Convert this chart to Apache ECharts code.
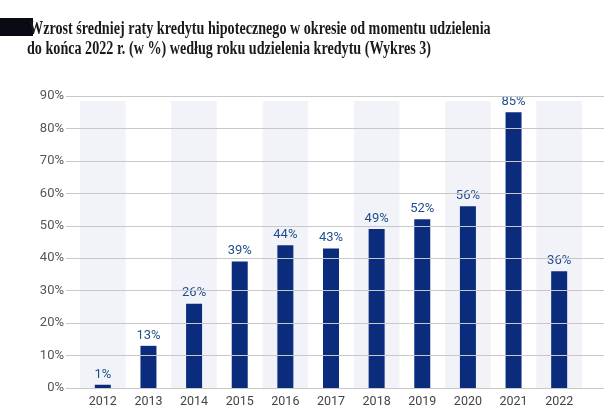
<!DOCTYPE html>
<html><head><meta charset="utf-8">
<script src="https://cdn.jsdelivr.net/npm/echarts@6/dist/echarts.min.js"></script>
<style>html,body{margin:0;padding:0;background:#fff}#c{width:615px;height:410px}</style>
</head><body><div id="c"></div>
<script>
const titleLine1 = 'Wzrost średniej raty kredytu hipotecznego w okresie od momentu udzielenia';
const titleLine2 = 'do końca 2022 r. (w %) według roku udzielenia kredytu (Wykres 3)';
const years = ['2012','2013','2014','2015','2016','2017','2018','2019','2020','2021','2022'];
const values = [1, 13, 26, 39, 44, 43, 49, 52, 56, 85, 36];
const yTicks = {min: 0, max: 90, interval: 10};

const titleStyle = {fontFamily: 'Liberation Serif', fontSize: 18, fontWeight: 'bold', fill: '#1a1a1a'};
const chart = echarts.init(document.getElementById('c'));
chart.setOption({
  animation: false,
  backgroundColor: '#fff',
  graphic: [
    {type: 'rect', left: 0, top: 18, shape: {width: 33, height: 18}, style: {fill: '#0a0a14'}, z: 1},
    {type: 'text', x: 29, y: 20, scaleX: 0.785, style: Object.assign({text: titleLine1}, titleStyle), z: 2},
    {type: 'text', x: 27, y: 40, scaleX: 0.785, style: Object.assign({text: titleLine2}, titleStyle), z: 2}
  ],
  grid: [
    {left: 66, right: 11, top: 96, bottom: 22},
    {left: 80, right: 33, top: 96, bottom: 22},
    {left: 80, right: 33, top: 101, bottom: 22}
  ],
  xAxis: [
    {type: 'value', gridIndex: 0, show: false},
    {type: 'category', gridIndex: 1, data: years,
     axisLine: {show: false}, axisTick: {show: false},
     axisLabel: {color: '#444', fontSize: 12.5, margin: 7, fontFamily: 'Liberation Sans Narrow, Roboto'}},
    {type: 'category', gridIndex: 2, data: years,
     axisLine: {show: false}, axisTick: {show: false}, axisLabel: {show: false},
     splitArea: {show: true, areaStyle: {color: ['#f1f3f9', 'rgba(255,255,255,0)']}}}
  ],
  yAxis: [
    {type: 'value', gridIndex: 0, min: yTicks.min, max: yTicks.max, interval: yTicks.interval,
     axisLine: {show: false}, axisTick: {show: false},
     axisLabel: {formatter: '{value}%', color: '#555', fontSize: 13, margin: 2, fontFamily: 'Roboto'},
     splitLine: {lineStyle: {color: '#c8c8c8', width: 1}}, z: 3},
    {type: 'value', gridIndex: 1, min: yTicks.min, max: yTicks.max, interval: yTicks.interval, show: false, splitLine: {show: false}},
    {type: 'value', gridIndex: 2, min: yTicks.min, max: yTicks.max, show: false, splitLine: {show: false}}
  ],
  series: [{
    type: 'bar', xAxisIndex: 1, yAxisIndex: 1, data: values, barWidth: 16,
    itemStyle: {color: '#0b2c7c'},
    label: {show: true, position: 'top', distance: 4, formatter: '{c}%', color: '#1f4e8c', fontSize: 13, fontFamily: 'Roboto'}
  }]
});
</script></body></html>
